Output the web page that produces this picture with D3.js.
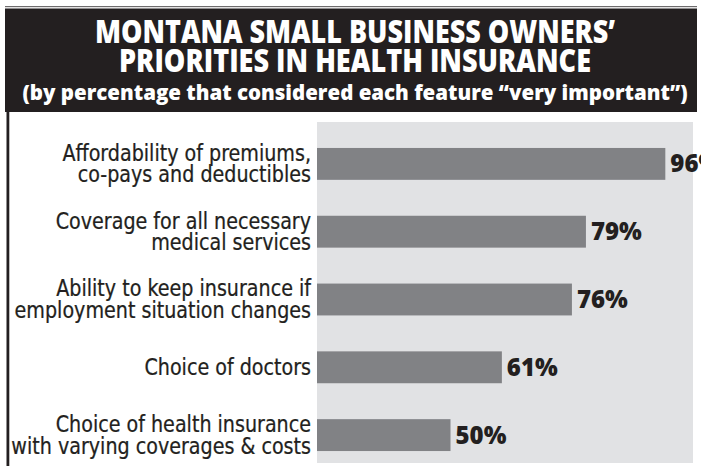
<!DOCTYPE html>
<html>
<head>
<meta charset="utf-8">
<script src="https://cdn.jsdelivr.net/npm/d3@7"></script>
<style>
  html, body { margin: 0; padding: 0; background: #fff; overflow: hidden; }
  svg { display: block; }
</style>
</head>
<body>
<svg id="chart" width="701" height="469"></svg>
<script>
// Survey features (line breaks mark the two-line labels) and share rating each "very important"
const categories = [
  "Affordability of premiums,\nco-pays and deductibles",
  "Coverage for all necessary\nmedical services",
  "Ability to keep insurance if\nemployment situation changes",
  "Choice of doctors",
  "Choice of health insurance\nwith varying coverages & costs"
];
const values = [96, 79, 76, 61, 50];
const titleLines = ["MONTANA SMALL BUSINESS OWNERS’", "PRIORITIES IN HEALTH INSURANCE"];
const subtitle = "(by percentage that considered each feature “very important”)";

const ink = "#231f20";
const svg = d3.select("#chart");

// ---- header block ----
svg.append("rect").attr("x", 5).attr("y", 6).attr("width", 692).attr("height", 1.2).attr("fill", "#6d6b6c");
svg.append("rect").attr("x", 5).attr("y", 8.5).attr("width", 692).attr("height", 103.5).attr("fill", ink);

const titleSpec = [
  { text: titleLines[0], y: 43, size: 31, len: 520 },
  { text: titleLines[1], y: 72, size: 31, len: 472 },
  { text: subtitle, y: 100, size: 20.5, len: 665 }
];
svg.selectAll("text.title")
  .data(titleSpec)
  .join("text")
  .attr("class", "title")
  .attr("x", 355)
  .attr("y", d => d.y)
  .attr("text-anchor", "middle")
  .attr("font-family", "'Open Sans', 'DejaVu Sans', sans-serif")
  .attr("font-weight", 800)
  .attr("font-size", d => d.size)
  .attr("fill", "#fff")
  .attr("textLength", d => d.len)
  .attr("lengthAdjust", "spacingAndGlyphs")
  .text(d => d.text);

// left rule running down the body
svg.append("rect").attr("x", 6.5).attr("y", 111).attr("width", 2.8).attr("height", 355).attr("fill", ink);

// ---- plot panel ----
const panel = { x: 317, y: 122, w: 376, h: 341 };
svg.append("rect")
  .attr("x", panel.x).attr("y", panel.y)
  .attr("width", panel.w).attr("height", panel.h)
  .attr("fill", "#e1e2e4");

const x = d3.scaleLinear().domain([0, 100]).range([217, 684]);
const y = d3.scaleBand()
  .domain(categories)
  .range([130, 469])
  .paddingInner(0.53)
  .paddingOuter(0.265);

const rows = categories.map((c, i) => ({ cat: c, value: values[i] }));

svg.append("g").selectAll("rect")
  .data(rows)
  .join("rect")
  .attr("x", panel.x)
  .attr("y", d => y(d.cat))
  .attr("width", d => x(d.value) - panel.x)
  .attr("height", y.bandwidth())
  .attr("fill", "#818285");

svg.append("g").selectAll("text")
  .data(rows)
  .join("text")
  .attr("x", d => x(d.value) + 5)
  .attr("y", d => y(d.cat) + y.bandwidth() / 2 + 8.5)
  .attr("font-family", "'Open Sans', 'DejaVu Sans', sans-serif")
  .attr("font-weight", 800)
  .attr("font-size", 24)
  .attr("fill", ink)
  .text(d => d.value + "%");

// ---- category labels, right-aligned against the panel ----
const labelG = svg.append("g");
const labelInner = labelG.append("g");
const labels = labelInner.selectAll("text")
  .data(rows)
  .join("text")
  .attr("x", 0)
  .attr("text-anchor", "end")
  .attr("font-family", "'Liberation Sans Narrow', 'DejaVu Sans Condensed', 'Liberation Sans', sans-serif")
  .attr("font-size", 23)
  .attr("fill", ink)
  .attr("stroke", ink)
  .attr("stroke-width", 0.25);

labels.each(function(d) {
  const lines = d.cat.split("\n");
  const c = y(d.cat) + y.bandwidth() / 2;
  const first = lines.length === 2 ? c - 3 : c + 8;
  d3.select(this).selectAll("tspan")
    .data(lines)
    .join("tspan")
    .attr("x", 0)
    .attr("y", (l, i) => first + i * 21.5)
    .text(l => l);
});

// condense the label block so the widest line spans the available width
let widest = 0;
labelInner.selectAll("tspan").each(function() {
  widest = Math.max(widest, this.getComputedTextLength());
});
const k = widest > 0 ? 300 / widest : 1;
labelG.attr("transform", "translate(311,0)");
labelInner.attr("transform", `scale(${k},1)`);
</script>
</body>
</html>
